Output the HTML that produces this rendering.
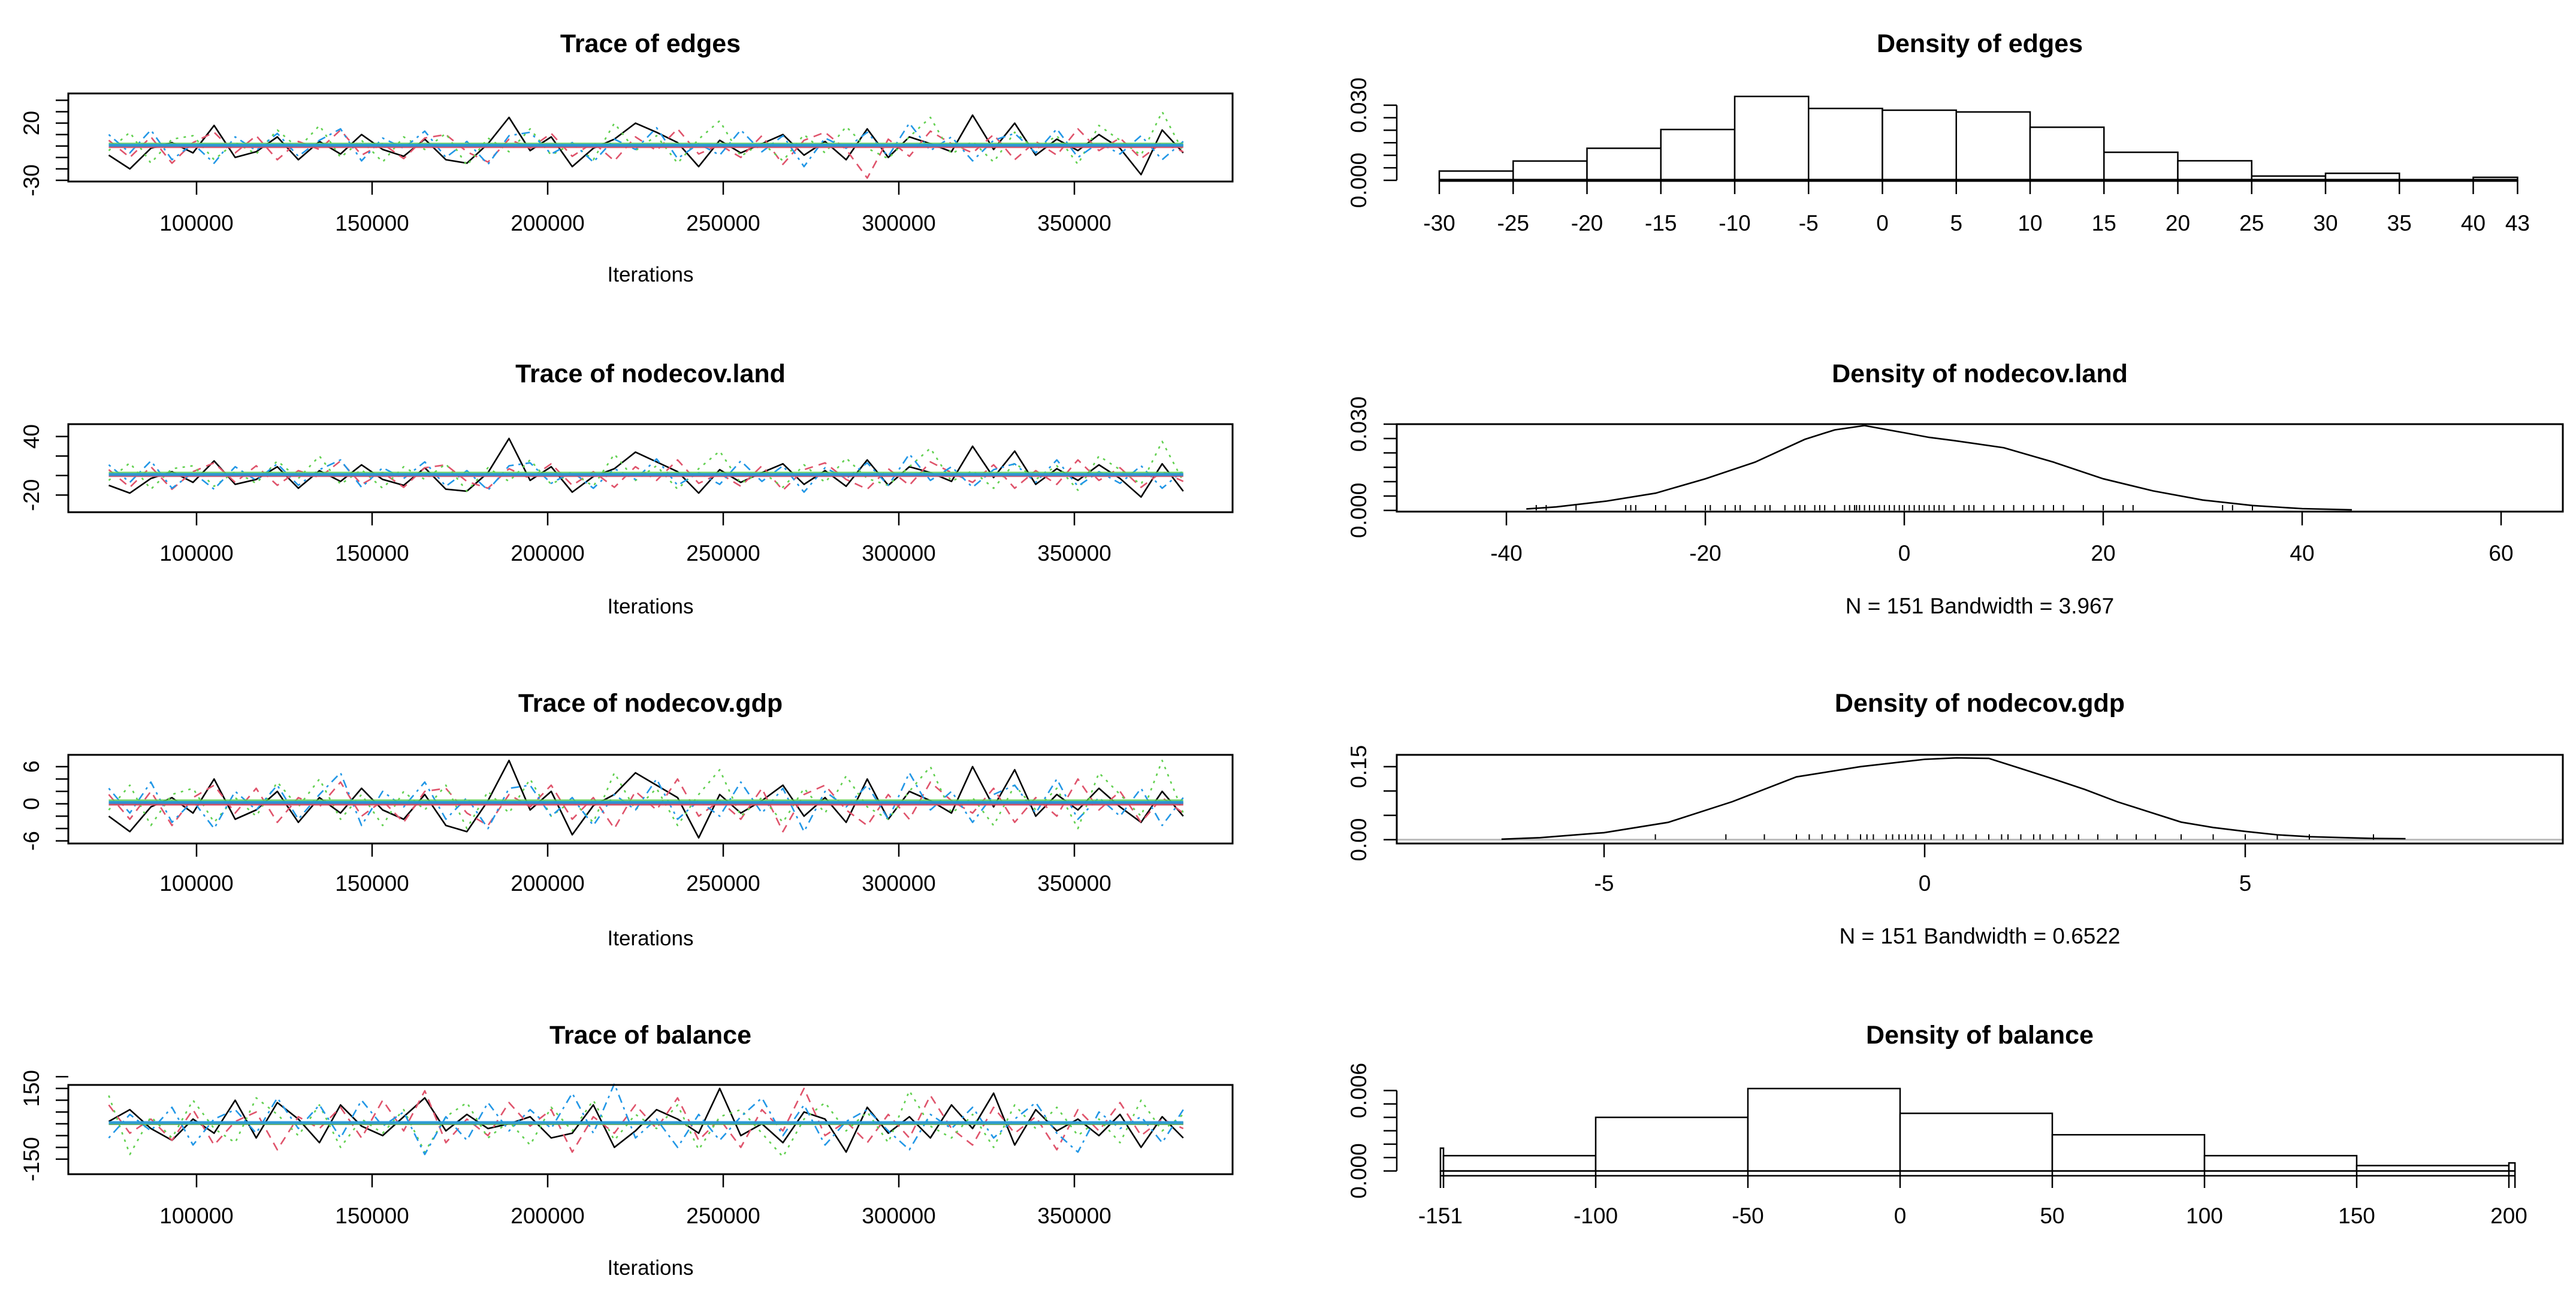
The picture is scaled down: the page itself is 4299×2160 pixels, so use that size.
<!DOCTYPE html>
<html>
<head>
<meta charset="utf-8">
<style>
html,body{margin:0;padding:0;background:#fff;}
svg{display:block;}
text{font-family:"Liberation Sans",Arial,sans-serif;fill:#000;}
.title{font-size:43px;font-weight:bold;}
.tick{font-size:37px;}
.axlab{font-size:35px;}
</style>
</head>
<body>
<svg id="chart" width="4299" height="2160" viewBox="0 0 4299 2160" xmlns="http://www.w3.org/2000/svg"></svg>
<script>
// ---------- data ----------
const iterations = [75000,81000,87000,93000,99000,105000,111000,117000,123000,129000,135000,141000,147000,153000,159000,165000,171000,177000,183000,189000,195000,201000,207000,213000,219000,225000,231000,237000,243000,249000,255000,261000,267000,273000,279000,285000,291000,297000,303000,309000,315000,321000,327000,333000,339000,345000,351000,357000,363000,369000,375000,381000];
const iterTicks = [100000,150000,200000,250000,300000,350000];

const edgesBlack = [-8,-20,-2,3,-6,18,-10,-5,8,-12,4,-7,10,-3,-9,6,-12,-15,2,25,-4,8,-18,-2,6,20,12,3,-18,5,-6,2,10,-8,4,-12,15,-10,8,2,-5,27,-3,20,-8,6,-4,10,-2,-25,14,-6];
const edgesRed = [5,-10,8,-15,3,12,-6,9,-12,4,-3,14,-8,2,-11,7,10,-5,-14,6,-2,11,-9,3,-13,8,-4,15,-7,1,-10,9,-16,5,12,-3,-28,6,-9,13,2,-6,10,-12,4,-8,15,-4,7,-11,3,-5];
const edgesGreen = [-4,12,-15,6,9,-12,3,-7,14,-2,18,-10,5,-14,8,-3,11,-17,7,-5,15,-8,2,-12,20,-4,9,-15,6,22,-9,3,-13,10,-6,17,-2,-11,8,25,-7,4,-14,12,-3,9,-16,18,5,-8,30,-5];
const edgesBlue = [10,-6,14,-12,2,-15,8,-4,11,-9,5,15,-13,7,-2,13,-10,4,-16,9,12,-7,3,-14,6,-3,16,-11,2,-8,14,-5,9,-18,7,-2,12,-9,20,-4,8,-13,5,11,-6,15,-10,3,-7,9,-12,4];
const edgesYTicks = [40,30,20,10,0,-10,-20,-30];
const edgesYLabels = ["20","-30"];

const landBlack = [-10,-18,-3,4,-7,15,-9,-4,9,-13,5,-6,11,-4,-10,8,-14,-16,3,38,-5,9,-17,-1,7,24,14,4,-18,6,-7,3,12,-9,5,-11,16,-10,9,3,-6,30,-2,25,-9,7,-5,11,-3,-22,12,-16];
const landRed = [6,-12,9,-14,4,13,-7,10,-10,5,-2,15,-9,3,-12,8,11,-6,-13,7,-3,12,-10,4,-12,9,-5,16,-8,2,-11,10,-15,6,13,-4,-14,7,-10,14,3,-7,11,-13,5,-9,16,-5,8,-12,4,-6];
const landGreen = [-5,13,-14,7,10,-11,4,-8,15,-3,20,-9,6,-13,9,-4,12,-16,8,-6,16,-9,3,-11,22,-5,10,-14,7,25,-8,4,-12,11,-7,18,-3,-10,9,28,-6,5,-13,13,-4,10,-15,20,6,-9,35,-6];
const landBlue = [11,-7,15,-13,3,-14,9,-5,12,-10,6,16,-12,8,-3,14,-11,5,-15,10,13,-8,4,-13,7,-4,17,-10,3,-9,15,-6,10,-17,8,-3,13,-10,22,-5,9,-12,6,12,-7,16,-11,4,-8,10,-13,5];
const landYTicks = [40,20,0,-20];
const landYLabels = ["40","-20"];

const gdpBlack = [-2,-4.5,-0.5,1,-1.5,4,-2.5,-1,2,-3,1,-1.5,2.5,-1,-2.5,1.5,-3.5,-4.5,0.5,7,-1,2,-5,-0.3,1.5,5,3,1,-5.5,1.5,-1.5,0.5,3,-2,1,-3,4,-2.5,2,0.5,-1.5,6,-0.5,5.5,-2,1.5,-1,2.5,-0.5,-3,2,-2];
const gdpRed = [1.5,-2.5,2,-3.5,1,3,-1.5,2.5,-3,1,-0.5,3.5,-2,0.5,-3,2,2.5,-1.5,-3.5,1.5,-0.5,3,-2.5,1,-4,2,-1,4,-2,0.5,-2.5,2.5,-4.5,1.5,3,-1,-3.5,1.5,-2.5,3.5,0.5,-1.5,2.5,-3,1,-2,4,-1,2,-3,1,-1.5];
const gdpGreen = [-1,3,-3.5,1.5,2.5,-3,1,-2,3.5,-0.5,4,-2.5,1.5,-3.5,2,-1,3,-4,2,-1.5,4,-2,0.5,-3,5,-1,2.5,-3.5,1.5,5.5,-2,1,-3,2.5,-1.5,4.5,-0.5,-2.5,2,6,-1.5,1,-3.5,3,-1,2.5,-4,5,1.5,-2,7,-1.5];
const gdpBlue = [2.5,-1.5,3.5,-3,0.5,-4,2,-1,3,-2.5,1.5,5,-3.5,2,-0.5,3.5,-2.5,1,-4,2.5,3,-2,1,-3.5,1.5,-1,4,-2.5,0.5,-2,3.5,-1.5,2.5,-4.5,2,-0.5,3,-2.5,5,-1,2,-3,1.5,3,-1.5,4,-2.5,1,-2,2.5,-3.5,1];
const gdpYTicks = [6,4,2,0,-2,-4,-6];
const gdpYLabels = ["6","0","-6"];

const balBlack = [10,60,-20,-70,20,-40,100,-60,90,20,-80,80,-10,-50,30,110,-30,40,-20,0,30,-60,-40,80,-100,-30,60,20,-40,150,-50,0,-80,50,20,-120,70,-40,30,-60,80,-20,130,-90,60,-30,20,-50,40,-100,30,-60];
const balRed = [80,-40,20,-70,60,-90,10,50,-110,30,-20,70,-60,100,-30,140,-80,20,-50,90,-10,60,-120,30,-40,80,-20,110,-70,20,-100,60,-30,150,-50,10,-80,40,-60,120,-20,-90,70,-40,30,-110,60,-30,90,-50,20,-20];
const balGreen = [120,-130,30,-60,100,-20,-80,110,40,-50,80,-100,20,-40,60,-120,30,90,-60,10,-90,70,-30,100,-70,40,-20,80,-110,30,60,-40,-140,20,90,-30,50,-80,140,-10,-60,40,-100,80,-20,70,-50,20,-80,100,-30,40];
const balBlue = [-60,40,-30,70,-90,20,60,-40,110,-20,80,-60,100,-10,50,-130,30,-70,90,-30,60,-20,130,-40,170,-60,20,-100,40,-70,30,110,-50,80,-90,10,60,-30,-110,40,-20,70,-60,20,90,-40,-120,50,-20,30,-80,60];
const balYTicks = [200,150,100,50,0,-50,-100,-150];
const balYLabels = ["150","-150"];

// histogram edges
const edgesBreaks = [-30,-25,-20,-15,-10,-5,0,5,10,15,20,25,30,35,40,43];
const edgesDensity = [0.0037,0.0077,0.0128,0.0203,0.0335,0.0287,0.0280,0.0273,0.0212,0.0112,0.0078,0.0017,0.0028,0.0,0.0012];
const edgesHistYTicks = [0,0.005,0.010,0.015,0.020,0.025,0.030];
const edgesHistYLabels = ["0.000","0.030"];

// density land
const landDensX = [-38,-35,-30,-25,-20,-15,-10,-7,-4,0,2.5,5,10,15,20,25,30,35,40,45];
const landDensY = [0.0005,0.0012,0.0032,0.006,0.011,0.0168,0.0247,0.028,0.0295,0.027,0.0254,0.0243,0.0218,0.0168,0.011,0.0068,0.0036,0.0017,0.0006,0.0002];
const landRug = [-37,-36,-33,-28,-27.5,-27,-25,-24,-22,-20,-19.5,-18,-17,-16.5,-15,-14,-13.5,-12,-11,-10.5,-10,-9,-8.5,-8,-7,-6,-5.5,-5,-4.8,-4.5,-4,-3.5,-3,-2.5,-2,-1.5,-1,-0.5,0,0.5,1,1.5,2,2.5,3,3.5,4,5,6,6.5,7,8,9,10,11,12,13,14,15,16,18,20,22,23,32,33,35];
const landXTicks = [-40,-20,0,20,40,60];
const landYTicksR = [0,0.005,0.010,0.015,0.020,0.025,0.030];
const landYLabelsR = ["0.000","0.030"];

// density gdp
const gdpDensX = [-6.6,-6,-5,-4,-3,-2,-1,0,0.5,1,1.5,2,2.5,3,3.5,4,4.5,5,5.5,6,7,7.5];
const gdpDensY = [0.001,0.004,0.0144,0.0356,0.078,0.129,0.15,0.165,0.168,0.167,0.146,0.125,0.103,0.078,0.057,0.036,0.025,0.017,0.010,0.006,0.0025,0.002];
const gdpRug = [-4.2,-3.1,-2.5,-2,-1.8,-1.6,-1.4,-1.2,-1,-0.9,-0.8,-0.6,-0.5,-0.4,-0.3,-0.2,-0.1,0,0.1,0.3,0.5,0.6,0.8,1,1.2,1.3,1.5,1.7,1.8,2,2.2,2.4,2.7,3,3.3,3.6,4,4.5,5,5.5,6,7];
const gdpXTicks = [-5,0,5];
const gdpYTicksR = [0,0.05,0.10,0.15];
const gdpYLabelsR = ["0.00","0.15"];

// histogram balance
const balBreaks = [-151,-150,-100,-50,0,50,100,150,200,202];
const balDensity = [0.0017,0.00114,0.0040,0.00615,0.0043,0.0027,0.00114,0.0004,0.0006];
const balTickLabels = ["-151","","-100","-50","0","50","100","150","200",""];
const balHistYTicks = [0,0.001,0.002,0.003,0.004,0.005,0.006];
const balHistYLabels = ["0.000","0.006"];

// ---------- drawing ----------
const NS = "http://www.w3.org/2000/svg";
const svg = document.getElementById('chart');
function mk(tag, attrs, parent, name) {
  const el = document.createElementNS(NS, tag);
  for (const k in attrs) el.setAttribute(k, attrs[k]);
  
  
  parent.appendChild(el);
  return el;
}
function txt(s, x, y, cls, anchor, parent, name, rot) {
  const t = mk('text', {x: x, y: y, class: cls, 'text-anchor': anchor || 'middle'}, parent, name);
  if (rot) t.setAttribute('transform', 'rotate(-90 ' + x + ' ' + y + ')');
  t.textContent = s;
  return t;
}
const COLORS = ['#000000', '#DF536B', '#61D04F', '#2297E6'];
const DASH = ['none', '14 10', '4 9', '4 8 14 8'];
const CHAIN = ['black', 'red', 'green', 'blue'];
const LX0 = 114, LX1 = 2057;
const RX0 = 2331, RX1 = 4277;
function xIter(v) { return 328 + (v - 100000) * 0.00586; }

function drawTrace(cfg) {
  const g = mk('g', {}, svg, cfg.key + '-trace-panel');
  const y = cfg.yScale;
  txt(cfg.title, (LX0 + LX1) / 2, cfg.titleY + 15, 'title', 'middle', g, cfg.key + '-trace-title');
  // series
  cfg.series.forEach(function (vals, c) {
    const pts = vals.map(function (v, i) { return xIter(iterations[i]).toFixed(1) + ',' + y(v).toFixed(1); }).join(' ');
    const pl = mk('polyline', {points: pts, fill: 'none', stroke: COLORS[c], 'stroke-width': 2.6, 'stroke-dasharray': DASH[c], 'stroke-linejoin': 'round'}, g, cfg.key + '-chain-' + CHAIN[c]);
  });
  // mean lines
  cfg.series.forEach(function (vals, c) {
    const m = vals.reduce(function (a, b) { return a + b; }, 0) / vals.length;
    mk('line', {x1: xIter(iterations[0]), x2: xIter(iterations[iterations.length - 1]), y1: y(m), y2: y(m), stroke: COLORS[c], 'stroke-width': 5, opacity: 0.85}, g, cfg.key + '-mean-' + CHAIN[c]);
  });
  // box
  mk('rect', {x: LX0, y: cfg.top, width: LX1 - LX0, height: cfg.bottom - cfg.top, fill: 'none', stroke: '#000', 'stroke-width': 3}, g, cfg.key + '-plot-box');
  // x axis
  iterTicks.forEach(function (t) {
    const xx = xIter(t);
    mk('line', {x1: xx, x2: xx, y1: cfg.bottom, y2: cfg.bottom + 22, stroke: '#000', 'stroke-width': 2.5}, g, cfg.key + '-x-tick');
    txt(String(t), xx, cfg.labY + 13, 'tick', 'middle', g, cfg.key + '-x-tick-label');
  });
  txt('Iterations', (LX0 + LX1) / 2, cfg.iterY + 12, 'axlab', 'middle', g, cfg.key + '-x-axis-title');
  // y axis
  cfg.yTicks.forEach(function (t) {
    mk('line', {x1: LX0 - 21, x2: LX0, y1: y(t), y2: y(t), stroke: '#000', 'stroke-width': 2.5}, g, cfg.key + '-y-tick');
  });
  cfg.yLabels.forEach(function (s) {
    txt(s, 65, y(parseFloat(s)), 'tick', 'middle', g, cfg.key + '-y-tick-label', true);
  });
}

drawTrace({key: 'edges', title: 'Trace of edges', titleY: 72, top: 156, bottom: 303, labY: 372, iterY: 458,
  yScale: function (v) { return 301 - (v + 30) * 1.909; },
  series: [edgesBlack, edgesRed, edgesGreen, edgesBlue], yTicks: edgesYTicks, yLabels: edgesYLabels});
drawTrace({key: 'land', title: 'Trace of nodecov.land', titleY: 623, top: 708, bottom: 855, labY: 923, iterY: 1012,
  yScale: function (v) { return 826.4 - (v + 20) * 1.63; },
  series: [landBlack, landRed, landGreen, landBlue], yTicks: landYTicks, yLabels: landYLabels});
drawTrace({key: 'gdp', title: 'Trace of nodecov.gdp', titleY: 1173, top: 1260, bottom: 1408, labY: 1474, iterY: 1566,
  yScale: function (v) { return 1341.7 - v * 10.33; },
  series: [gdpBlack, gdpRed, gdpGreen, gdpBlue], yTicks: gdpYTicks, yLabels: gdpYLabels});
drawTrace({key: 'balance', title: 'Trace of balance', titleY: 1727, top: 1811, bottom: 1960, labY: 2029, iterY: 2116,
  yScale: function (v) { return 1875.9 - v * 0.3934; },
  series: [balBlack, balRed, balGreen, balBlue], yTicks: balYTicks, yLabels: balYLabels});

function yAxisRight(g, key, yfn, ticks, labels) {
  mk('line', {x1: RX0, x2: RX0, y1: yfn(ticks[0]), y2: yfn(ticks[ticks.length - 1]), stroke: '#000', 'stroke-width': 2.5}, g, key + '-y-axis-line');
  ticks.forEach(function (t) {
    mk('line', {x1: RX0 - 22, x2: RX0, y1: yfn(t), y2: yfn(t), stroke: '#000', 'stroke-width': 2.5}, g, key + '-y-tick');
  });
  labels.forEach(function (s) {
    txt(s, 2280, yfn(parseFloat(s)), 'tick', 'middle', g, key + '-y-tick-label', true);
  });
}

// Density of edges (histogram)
(function () {
  const g = mk('g', {}, svg, 'edges-density-panel');
  const x = function (v) { return 2402 + (v + 30) * 24.65; };
  const y = function (v) { return 301 - v * 4180; };
  txt('Density of edges', (RX0 + RX1) / 2, 72 + 15, 'title', 'middle', g, 'edges-density-title');
  edgesDensity.forEach(function (d, i) {
    const x0 = x(edgesBreaks[i]), x1 = x(edgesBreaks[i + 1]);
    mk('rect', {x: x0, y: y(d), width: x1 - x0, height: y(0) - y(d), fill: '#fff', stroke: '#000', 'stroke-width': 2.5}, g, 'edges-hist-bar');
  });
  mk('line', {x1: x(edgesBreaks[0]), x2: x(edgesBreaks[edgesBreaks.length - 1]), y1: y(0), y2: y(0), stroke: '#000', 'stroke-width': 5}, g, 'edges-hist-baseline');
  edgesBreaks.forEach(function (b) {
    mk('line', {x1: x(b), x2: x(b), y1: y(0), y2: 324, stroke: '#000', 'stroke-width': 2.5}, g, 'edges-x-tick');
    txt(String(b), x(b), 372 + 13, 'tick', 'middle', g, 'edges-x-tick-label');
  });
  yAxisRight(g, 'edges-density', y, edgesHistYTicks, edgesHistYLabels);
})();

function drawDensity(cfg) {
  const g = mk('g', {}, svg, cfg.key + '-density-panel');
  const x = cfg.x, y = cfg.y;
  txt(cfg.title, (RX0 + RX1) / 2, cfg.titleY + 15, 'title', 'middle', g, cfg.key + '-density-title');
  if (cfg.zeroLine) mk('line', {x1: RX0, x2: RX1, y1: y(0), y2: y(0), stroke: '#bbbbbb', 'stroke-width': 3}, g, cfg.key + '-zero-line');
  const pts = cfg.dx.map(function (v, i) { return x(v).toFixed(1) + ',' + y(cfg.dy[i]).toFixed(1); }).join(' ');
  mk('polyline', {points: pts, fill: 'none', stroke: '#000', 'stroke-width': 2.6}, g, cfg.key + '-density-curve');
  cfg.rug.forEach(function (r) {
    mk('line', {x1: x(r), x2: x(r), y1: y(0), y2: y(0) - 9, stroke: '#000', 'stroke-width': 2}, g, cfg.key + '-rug-mark');
  });
  mk('rect', {x: RX0, y: cfg.top, width: RX1 - RX0, height: cfg.bottom - cfg.top, fill: 'none', stroke: '#000', 'stroke-width': 3}, g, cfg.key + '-density-box');
  cfg.xTicks.forEach(function (t) {
    mk('line', {x1: x(t), x2: x(t), y1: cfg.bottom, y2: cfg.bottom + 23, stroke: '#000', 'stroke-width': 2.5}, g, cfg.key + '-x-tick');
    txt(String(t), x(t), cfg.labY + 13, 'tick', 'middle', g, cfg.key + '-x-tick-label');
  });
  txt(cfg.note, (RX0 + RX1) / 2, cfg.noteY + 13, 'tick', 'middle', g, cfg.key + '-bandwidth-note');
  cfg.yTicks.forEach(function (t) {
    mk('line', {x1: RX0 - 22, x2: RX0, y1: y(t), y2: y(t), stroke: '#000', 'stroke-width': 2.5}, g, cfg.key + '-y-tick');
  });
  cfg.yLabels.forEach(function (s) {
    txt(s, 2280, y(parseFloat(s)), 'tick', 'middle', g, cfg.key + '-y-tick-label', true);
  });
}

drawDensity({key: 'land', title: 'Density of nodecov.land', titleY: 623, top: 708, bottom: 854, labY: 923, noteY: 1011,
  x: function (v) { return 3178 + 16.6 * v; }, y: function (v) { return 852 - v * 4800; },
  dx: landDensX, dy: landDensY, rug: landRug, xTicks: landXTicks, yTicks: landYTicksR, yLabels: landYLabelsR,
  note: 'N = 151   Bandwidth = 3.967', zeroLine: false});
drawDensity({key: 'gdp', title: 'Density of nodecov.gdp', titleY: 1173, top: 1260, bottom: 1408, labY: 1474, noteY: 1562,
  x: function (v) { return 3212 + 107 * v; }, y: function (v) { return 1401.6 - v * 812.7; },
  dx: gdpDensX, dy: gdpDensY, rug: gdpRug, xTicks: gdpXTicks, yTicks: gdpYTicksR, yLabels: gdpYLabelsR,
  note: 'N = 151   Bandwidth = 0.6522', zeroLine: true});

// Density of balance (histogram)
(function () {
  const g = mk('g', {}, svg, 'balance-density-panel');
  const x = function (v) { return 3171 + v * 5.08; };
  const y = function (v) { return 1954.6 - v * 22367; };
  txt('Density of balance', (RX0 + RX1) / 2, 1727 + 15, 'title', 'middle', g, 'balance-density-title');
  balDensity.forEach(function (d, i) {
    const x0 = x(balBreaks[i]), x1 = x(balBreaks[i + 1]);
    mk('rect', {x: x0, y: y(d), width: x1 - x0, height: y(0) - y(d), fill: '#fff', stroke: '#000', 'stroke-width': 2.5}, g, 'balance-hist-bar');
  });
  const xa = x(balBreaks[0]), xb = x(balBreaks[balBreaks.length - 1]);
  mk('line', {x1: xa, x2: xb, y1: y(0), y2: y(0), stroke: '#000', 'stroke-width': 2.5}, g, 'balance-hist-baseline');
  mk('line', {x1: xa, x2: xb, y1: y(0) + 8, y2: y(0) + 8, stroke: '#000', 'stroke-width': 2.5}, g, 'balance-axis-line');
  balBreaks.forEach(function (b, i) {
    mk('line', {x1: x(b), x2: x(b), y1: y(0), y2: 1983, stroke: '#000', 'stroke-width': 2.5}, g, 'balance-x-tick');
    if (balTickLabels[i]) txt(balTickLabels[i], x(b), 2029 + 13, 'tick', 'middle', g, 'balance-x-tick-label');
  });
  yAxisRight(g, 'balance-density', y, balHistYTicks, balHistYLabels);
})();
</script>
</body>
</html>
